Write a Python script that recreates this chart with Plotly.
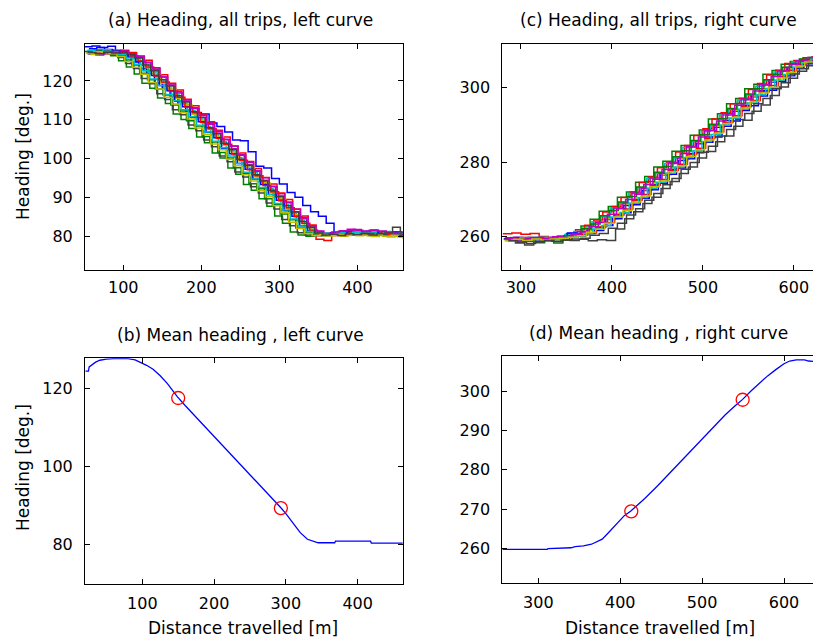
import plotly.graph_objects as go

# ---------------- data ----------------
# (a) left curve, all trips: heading sampled every 10 m
dist_left = [50, 60, 70, 80, 90, 100, 110, 120, 130, 140, 150, 160, 170, 180, 190, 200, 210,
             220, 230, 240, 250, 260, 270, 280, 290, 300, 310, 320, 330, 340, 350, 360, 370,
             380, 390, 400, 410, 420, 430, 440, 450, 460]
left_trip_offset = [0, 4, 7, 2, 5, 8, 3, 6, 1, 9, 4, 7, 2, 5]
left_trips = [
    [128.8, 129.0, 128.6, 128.9, 127.8, 126.5, 124.9, 123.2, 121.9, 119.5, 118.0, 115.9, 114.2, 112.3, 111.9, 111.5, 109.2, 108.3, 106.9, 104.8, 104.6, 101.8, 98.1, 97.6, 94.9, 93.5, 91.3, 90.1, 88.0, 86.4, 85.2, 83.4, 81.0, 81.2, 80.9, 81.1, 80.8, 81.0, 80.8, 81.1, 80.9, 80.7],
    [127.0, 127.4, 127.1, 126.5, 125.2, 123.6, 121.8, 119.4, 118.1, 115.6, 114.2, 111.5, 110.1, 107.8, 105.6, 104.1, 101.5, 100.2, 97.6, 96.0, 93.4, 91.9, 89.7, 87.8, 85.3, 83.4, 81.2, 80.4, 80.1, 80.5, 80.2, 80.6, 80.4, 80.9, 80.5, 80.7, 80.3, 80.6, 80.2, 80.4, 80.0, 79.8],
    [127.4, 127.8, 128.0, 127.7, 127.9, 127.3, 126.4, 125.3, 123.4, 121.6, 119.4, 117.7, 115.3, 113.6, 111.4, 109.5, 107.3, 105.6, 103.3, 101.5, 99.3, 97.5, 95.2, 93.5, 91.2, 89.5, 87.1, 85.3, 83.0, 79.3, 79.0, 80.3, 80.6, 80.4, 80.8, 80.5, 80.7, 80.4, 80.6, 80.3, 80.5, 80.2],
    [127.6, 127.9, 127.7, 127.9, 127.4, 126.9, 125.7, 124.2, 122.3, 120.4, 118.2, 116.4, 114.1, 112.4, 110.2, 108.3, 106.1, 104.4, 102.1, 100.3, 98.1, 96.4, 94.0, 92.3, 90.1, 88.2, 85.9, 84.1, 82.2, 81.1, 80.7, 80.9, 81.2, 80.9, 81.3, 81.0, 81.4, 81.1, 81.3, 81.0, 81.2, 80.9],
    [127.0, 126.7, 126.9, 126.6, 127.0, 126.9, 126.1, 124.7, 122.9, 121.0, 118.9, 117.2, 114.8, 113.1, 110.7, 109.1, 106.6, 105.0, 102.6, 101.0, 98.5, 96.9, 94.5, 92.9, 90.4, 88.7, 86.4, 84.6, 82.7, 81.3, 80.7, 81.0, 81.3, 81.5, 81.8, 81.4, 81.6, 81.2, 81.0, 80.6, 80.4, 80.2],
    [126.8, 127.2, 127.0, 127.3, 126.9, 126.4, 125.3, 123.4, 121.8, 119.4, 117.9, 115.5, 113.9, 111.4, 109.9, 107.5, 105.8, 103.4, 101.8, 99.4, 97.8, 95.3, 93.8, 91.4, 89.7, 87.3, 85.6, 83.3, 81.9, 80.6, 80.2, 80.4, 80.1, 80.5, 80.2, 80.4, 80.0, 80.3, 79.9, 80.1, 79.6, 79.4],
    [127.4, 127.9, 127.3, 126.8, 126.0, 124.5, 123.2, 120.6, 119.3, 116.7, 115.2, 112.6, 111.3, 108.7, 107.2, 104.8, 103.1, 100.7, 99.2, 96.6, 95.3, 92.8, 91.2, 88.6, 87.1, 84.4, 82.8, 81.0, 80.4, 80.2, 80.6, 80.5, 80.9, 80.6, 80.8, 80.5, 80.9, 80.6, 80.4, 80.7, 80.3, 80.5],
    [128.3, 128.6, 128.1, 127.8, 127.2, 126.1, 125.0, 122.7, 121.4, 118.8, 117.5, 114.8, 113.4, 110.7, 109.5, 106.8, 105.4, 102.7, 101.3, 98.8, 97.3, 94.7, 93.4, 90.8, 89.3, 86.6, 85.2, 82.8, 81.4, 80.7, 80.5, 80.9, 80.7, 81.1, 80.8, 81.2, 80.9, 81.1, 80.8, 81.2, 80.9, 81.1],
    [127.6, 127.3, 127.8, 127.2, 126.6, 125.4, 124.1, 122.0, 120.3, 117.9, 116.4, 113.8, 112.3, 109.8, 108.4, 105.7, 104.3, 101.6, 100.2, 97.7, 96.3, 93.6, 92.3, 89.7, 88.2, 85.8, 84.3, 82.2, 81.0, 80.5, 80.8, 80.4, 80.9, 80.7, 81.0, 80.6, 80.9, 80.5, 80.8, 80.4, 80.6, 80.2],
    [127.2, 127.5, 127.3, 127.6, 127.1, 126.5, 125.1, 123.6, 121.3, 119.7, 117.4, 115.8, 113.3, 111.8, 109.3, 107.7, 105.2, 103.7, 101.2, 99.6, 97.2, 95.6, 93.1, 91.5, 89.2, 87.4, 85.1, 83.4, 81.6, 80.6, 80.4, 80.7, 80.5, 80.9, 80.6, 80.8, 80.5, 80.9, 80.6, 80.8, 80.5, 80.3],
    [127.9, 127.6, 128.0, 127.6, 126.8, 125.9, 124.3, 122.6, 120.5, 118.8, 116.5, 114.9, 112.6, 110.8, 108.6, 106.9, 104.5, 102.8, 100.7, 98.8, 96.5, 94.8, 92.6, 90.8, 88.5, 86.8, 84.5, 82.7, 81.3, 80.8, 80.9, 80.6, 81.0, 80.8, 81.1, 80.9, 81.2, 80.8, 81.0, 80.7, 80.9, 80.6],
    [127.5, 127.2, 127.6, 127.4, 127.7, 127.0, 126.3, 124.8, 123.1, 121.0, 119.2, 116.9, 115.1, 112.9, 111.2, 108.9, 107.1, 104.9, 103.2, 100.9, 99.1, 96.8, 95.1, 92.8, 91.0, 88.9, 87.0, 84.9, 82.8, 81.4, 80.8, 81.2, 81.5, 81.9, 81.6, 81.3, 81.7, 81.4, 81.1, 80.8, 80.6, 80.4],
    [127.1, 127.5, 127.4, 127.0, 126.3, 125.0, 123.5, 121.7, 119.6, 117.9, 115.8, 114.1, 111.8, 110.2, 107.9, 106.3, 103.8, 102.3, 99.9, 98.2, 95.9, 94.3, 91.8, 90.2, 87.9, 86.1, 83.7, 82.1, 80.8, 80.3, 80.5, 80.2, 80.6, 80.3, 80.7, 80.4, 80.2, 80.5, 80.1, 80.3, 79.9, 79.6],
    [127.3, 127.0, 127.4, 127.2, 127.5, 126.8, 125.9, 124.1, 122.6, 120.3, 118.7, 116.2, 114.6, 112.1, 110.6, 108.0, 106.4, 104.0, 102.4, 99.9, 98.3, 95.9, 94.3, 91.9, 90.3, 87.9, 86.3, 83.9, 82.4, 80.9, 80.4, 80.6, 80.3, 80.7, 80.5, 80.8, 80.4, 80.7, 80.9, 82.4, 81.2, 81.0],
]

# (c) right curve, all trips: heading sampled every 10 m
dist_right = [280, 290, 300, 310, 320, 330, 340, 350, 360, 370, 380, 390, 400, 410, 420, 430,
              440, 450, 460, 470, 480, 490, 500, 510, 520, 530, 540, 550, 560, 570, 580, 590,
              600, 610, 620, 630]
right_trip_offset = [3, 6, 0, 8, 2, 5, 4, 1, 7, 3, 9, 5, 2, 6]
right_trips = [
    [259.0, 259.3, 258.8, 259.2, 259.5, 259.3, 259.7, 260.9, 260.4, 261.8, 262.5, 264.6, 265.9, 268.4, 270.0, 272.4, 274.0, 276.5, 278.1, 280.4, 282.3, 284.9, 286.7, 289.3, 291.1, 293.6, 295.2, 297.5, 299.1, 301.4, 303.0, 305.0, 306.1, 307.4, 307.8, 308.1],
    [259.2, 258.6, 259.0, 258.4, 258.9, 258.3, 259.1, 260.6, 262.9, 264.7, 266.8, 268.1, 270.6, 272.0, 274.6, 276.1, 278.7, 280.2, 282.9, 284.4, 287.2, 288.6, 291.5, 292.9, 295.6, 297.0, 299.6, 300.8, 303.5, 304.5, 306.2, 306.9, 307.6, 308.0, 308.3, 308.4],
    [260.8, 261.0, 260.7, 260.9, 260.1, 259.6, 260.2, 260.8, 261.9, 263.1, 264.5, 266.6, 268.1, 270.5, 272.0, 274.5, 276.0, 278.5, 280.1, 282.7, 284.4, 287.1, 288.9, 291.5, 293.2, 295.6, 297.1, 299.4, 301.0, 303.3, 304.6, 306.4, 307.2, 307.9, 308.2, 308.0],
    [259.8, 259.5, 259.9, 259.4, 259.8, 259.9, 260.6, 261.4, 262.3, 264.0, 265.5, 267.7, 269.2, 271.6, 273.1, 275.6, 277.0, 279.6, 281.1, 283.9, 285.5, 288.2, 289.9, 292.6, 294.1, 296.6, 298.0, 300.3, 301.9, 304.1, 305.3, 306.8, 307.4, 308.0, 308.3, 308.1],
    [259.6, 259.9, 259.3, 259.7, 259.4, 259.9, 259.8, 260.3, 261.4, 261.8, 263.9, 265.0, 267.7, 268.9, 271.7, 272.9, 275.7, 276.9, 279.8, 281.0, 284.1, 285.4, 288.5, 289.8, 292.9, 294.0, 296.9, 297.8, 300.7, 301.8, 304.4, 305.3, 307.1, 307.5, 308.3, 308.0],
    [259.3, 259.6, 259.2, 259.5, 259.3, 259.6, 259.5, 260.1, 260.5, 261.7, 262.8, 264.8, 266.3, 268.7, 270.4, 272.6, 274.5, 276.6, 278.5, 280.8, 282.9, 285.2, 287.3, 289.6, 291.8, 293.8, 295.8, 297.7, 299.6, 301.6, 303.5, 305.0, 306.5, 307.3, 307.9, 308.0],
    [259.1, 258.3, 257.8, 258.6, 259.0, 258.8, 259.2, 259.0, 259.3, 258.9, 259.2, 259.0, 262.1, 264.8, 266.7, 268.9, 270.6, 272.9, 274.8, 276.9, 278.7, 281.1, 282.8, 285.4, 287.0, 289.6, 291.2, 293.6, 295.3, 297.8, 300.1, 302.4, 304.3, 305.8, 306.9, 307.5],
    [259.4, 259.7, 259.1, 259.4, 259.2, 259.5, 259.3, 261.0, 260.2, 260.9, 261.7, 263.0, 264.8, 266.4, 268.6, 270.3, 272.6, 274.3, 276.7, 278.4, 280.9, 282.5, 285.3, 286.7, 289.6, 291.0, 293.8, 295.1, 297.7, 299.2, 301.6, 303.1, 305.1, 306.3, 307.5, 307.9],
    [259.6, 259.2, 259.7, 259.3, 259.6, 259.5, 260.3, 260.8, 262.2, 263.4, 265.6, 267.0, 269.3, 270.8, 273.3, 274.8, 277.3, 278.8, 281.4, 283.0, 285.8, 287.3, 290.1, 291.6, 294.3, 295.7, 298.2, 299.6, 302.0, 303.5, 305.4, 306.4, 307.5, 307.8, 308.5, 308.3],
    [259.7, 259.4, 259.8, 259.5, 259.4, 259.7, 259.6, 260.0, 260.6, 261.0, 262.6, 263.8, 265.9, 267.4, 269.8, 271.3, 273.8, 275.3, 277.8, 279.4, 282.0, 283.7, 286.3, 288.1, 290.6, 292.4, 294.8, 296.5, 298.8, 300.5, 302.8, 304.5, 306.0, 307.0, 307.7, 308.1],
    [259.2, 259.8, 259.4, 259.9, 259.6, 259.4, 259.9, 260.2, 260.9, 262.1, 263.0, 265.3, 266.5, 269.0, 270.5, 273.0, 274.6, 277.0, 278.7, 281.2, 283.0, 285.5, 287.4, 289.9, 291.7, 294.1, 295.8, 298.0, 299.7, 301.9, 303.4, 305.4, 306.5, 307.6, 307.9, 308.3],
    [259.5, 259.1, 259.6, 259.8, 259.5, 260.0, 259.8, 260.7, 261.3, 262.7, 263.8, 266.0, 267.5, 270.0, 271.4, 274.0, 275.4, 278.0, 279.6, 282.3, 284.0, 286.7, 288.4, 291.0, 292.6, 295.2, 296.7, 299.0, 300.6, 302.9, 304.3, 306.1, 307.0, 308.0, 308.1, 308.4],
    [259.0, 259.3, 259.0, 259.4, 259.1, 259.4, 259.6, 259.9, 260.3, 261.2, 262.0, 263.6, 265.3, 267.0, 269.3, 270.9, 273.4, 274.9, 277.4, 279.0, 281.5, 283.3, 285.9, 287.7, 290.3, 292.0, 294.5, 296.2, 298.5, 300.0, 302.5, 304.0, 305.7, 306.8, 307.6, 307.9],
    [258.9, 258.6, 258.2, 258.7, 259.0, 258.7, 259.1, 259.4, 259.6, 260.4, 260.9, 262.3, 263.6, 265.8, 267.5, 269.8, 271.6, 273.9, 275.6, 278.1, 279.9, 282.6, 284.2, 287.0, 288.7, 291.4, 293.0, 295.6, 297.0, 299.6, 301.2, 303.6, 305.0, 306.4, 307.3, 307.7],
]

# (b) mean heading, left curve
mean_left_dist = [21, 25, 26, 30, 35, 41, 50, 60, 70, 80, 90, 100, 106, 115, 125, 135, 149, 160,
                  180, 200, 220, 240, 260, 280, 293, 300, 310, 320, 330, 340, 345, 368, 369,
                  418, 419, 463]
mean_left = [124.5, 124.5, 125.6, 126.2, 126.8, 127.3, 127.6, 127.7, 127.7, 127.7, 127.4, 126.6,
             126.0, 125.0, 123.3, 121.3, 117.9, 115.6, 111.7, 107.8, 103.8, 99.9, 95.9, 92.0,
             89.4, 87.9, 85.3, 83.0, 81.3, 80.6, 80.4, 80.4, 80.8, 80.8, 80.3, 80.3]
mark_left_dist = [150, 293]
mark_left = [117.6, 89.3]

# (d) mean heading, right curve
mean_right_dist = [256, 300, 311, 312, 340, 345, 355, 365, 372, 378, 385, 393, 400, 405, 413,
                   420, 430, 446, 460, 471, 485, 503, 515, 528, 540, 549.5, 560, 569, 580, 590,
                   600, 607, 615, 625, 630, 636]
mean_right = [259.7, 259.7, 259.7, 259.9, 260.1, 260.4, 260.6, 261.0, 261.6, 262.3, 263.8, 265.6,
              267.3, 268.3, 269.5, 270.8, 272.7, 276.0, 279.1, 281.5, 284.7, 288.5, 291.2, 294.0,
              296.3, 298.0, 300.2, 302.0, 304.0, 305.6, 307.1, 307.8, 308.1, 308.1, 307.8, 307.7]
mark_right_dist = [413.5, 549.5]
mark_right = [269.4, 297.9]

trip_colors = ["rgb(0,0,255)", "rgb(0,128,0)", "rgb(255,0,0)", "rgb(0,191,191)",
               "rgb(191,0,191)", "rgb(191,191,0)", "rgb(64,64,64)"]

titles = ["(a) Heading, all trips, left curve", "(c) Heading, all trips, right curve",
          "(b) Mean heading , left curve", "(d) Mean heading , right curve"]
xlabel = "Distance travelled [m]"
ylabel = "Heading [deg.]"

# ---------------- figure ----------------
fig = go.Figure()

for i, trip in enumerate(left_trips):
    fig.add_trace(go.Scatter(
        x=[d + left_trip_offset[i] for d in dist_left], y=trip, mode="lines",
        line=dict(color=trip_colors[i % 7], width=1.5, shape="hv"),
        xaxis="x", yaxis="y", showlegend=False, hoverinfo="skip"))

for i, trip in enumerate(right_trips):
    fig.add_trace(go.Scatter(
        x=[d + right_trip_offset[i] for d in dist_right], y=trip, mode="lines",
        line=dict(color=trip_colors[i % 7], width=1.5, shape="hv"),
        xaxis="x2", yaxis="y2", showlegend=False, hoverinfo="skip"))

fig.add_trace(go.Scatter(x=mean_left_dist, y=mean_left, mode="lines",
                         line=dict(color="rgb(0,0,255)", width=1.3),
                         xaxis="x3", yaxis="y3", showlegend=False))
fig.add_trace(go.Scatter(x=mark_left_dist, y=mark_left, mode="markers",
                         marker=dict(symbol="circle-open", size=13, color="rgb(255,0,0)",
                                     line=dict(width=1.3)),
                         xaxis="x3", yaxis="y3", showlegend=False))
fig.add_trace(go.Scatter(x=mean_right_dist, y=mean_right, mode="lines",
                         line=dict(color="rgb(0,0,255)", width=1.3),
                         xaxis="x4", yaxis="y4", showlegend=False))
fig.add_trace(go.Scatter(x=mark_right_dist, y=mark_right, mode="markers",
                         marker=dict(symbol="circle-open", size=13, color="rgb(255,0,0)",
                                     line=dict(width=1.3)),
                         xaxis="x4", yaxis="y4", showlegend=False))

FONT = "DejaVu Sans, Verdana, sans-serif"
FS_TICK = 16
FS_TEXT = 17


def ax(domain, rng, tickvals, anchor, mirror=True, standoff=4):
    return dict(domain=domain, range=rng, tickvals=tickvals, anchor=anchor,
                showline=True, linecolor="black", linewidth=1, mirror=("ticks" if mirror else False),
                ticks="inside", ticklen=5, tickcolor="black", showgrid=False, zeroline=False,
                tickfont=dict(family=FONT, size=FS_TICK, color="black"), ticklabelstandoff=standoff,
                fixedrange=True)


xl = [85 / 813, 402.7 / 813]
xr = [502.3 / 813, 1.0]
fig.update_layout(
    width=813, height=640, margin=dict(l=0, r=0, t=0, b=0),
    paper_bgcolor="white", plot_bgcolor="white",
    xaxis=ax(xl, [51, 458], [100, 200, 300, 400], "y", standoff=3),
    yaxis=ax([1 - 270 / 640, 1 - 44 / 640], [71.4, 129.5], [80, 90, 100, 110, 120], "x", standoff=8),
    xaxis2=ax(xr, [279.5, 621], [300, 400, 500, 600], "y2", standoff=3),
    yaxis2=ax([1 - 270 / 640, 1 - 44 / 640], [251.1, 311.6], [260, 280, 300], "x2", mirror=False, standoff=8),
    xaxis3=ax(xl, [20.2, 462.7], [100, 200, 300, 400], "y3", standoff=5),
    yaxis3=ax([1 - 584 / 640, 1 - 358.3 / 640], [69.8, 127.8], [80, 100, 120], "x3", standoff=8),
    xaxis4=ax(xr, [256, 635.4], [300, 400, 500, 600], "y4", standoff=5),
    yaxis4=ax([1 - 583 / 640, 1 - 356.3 / 640], [251.1, 309.0], [260, 270, 280, 290, 300], "x4", mirror=False, standoff=8),
)

ann = []
title_pos = [(241, 20), (658, 20), (241, 335), (658, 333)]
for t, (px, py) in zip(titles, title_pos):
    ann.append(dict(text=t, x=px / 813, y=1 - py / 640, xref="paper", yref="paper",
                    showarrow=False, xanchor="center", yanchor="middle",
                    font=dict(family=FONT, size=FS_TEXT, color="black")))
for px in (243, 660):
    ann.append(dict(text=xlabel, x=px / 813, y=1 - 628 / 640, xref="paper", yref="paper",
                    showarrow=False, xanchor="center", yanchor="middle",
                    font=dict(family=FONT, size=FS_TEXT, color="black")))
for py in (157, 468):
    ann.append(dict(text=ylabel, x=23 / 813, y=1 - py / 640, xref="paper", yref="paper",
                    showarrow=False, xanchor="center", yanchor="middle", textangle=-90,
                    font=dict(family=FONT, size=FS_TEXT, color="black")))
fig.update_layout(annotations=ann)

fig.write_html("out.html")
